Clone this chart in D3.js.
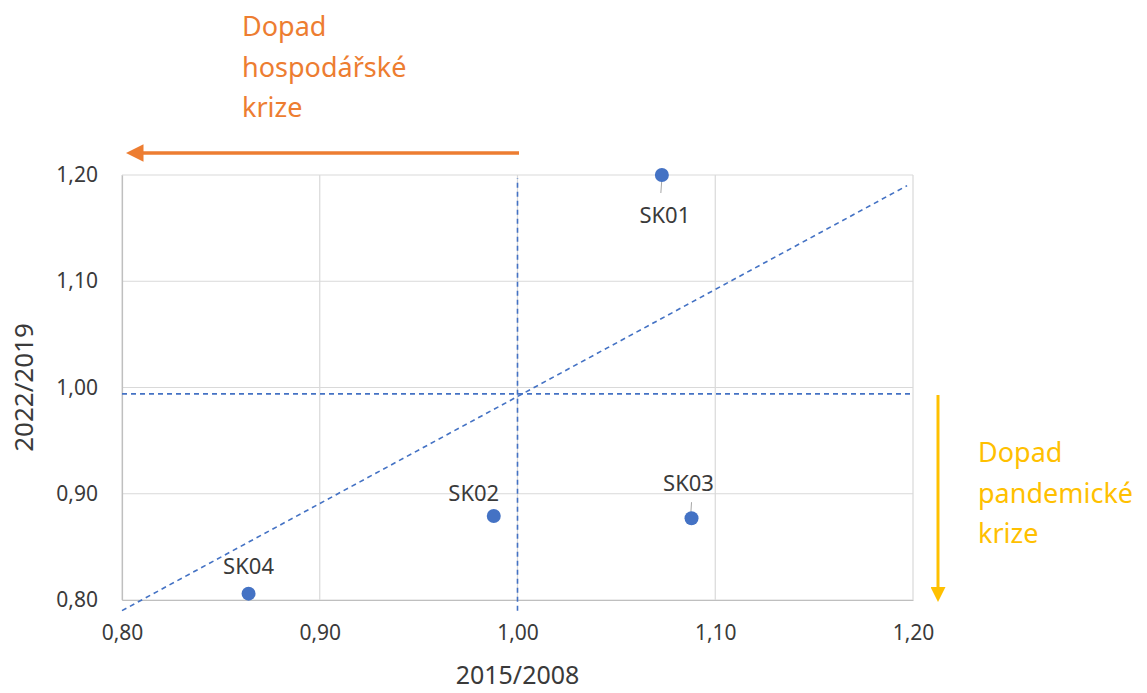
<!DOCTYPE html>
<html>
<head>
<meta charset="utf-8">
<script src="https://cdn.jsdelivr.net/npm/d3@7"></script>
<style>
  body { margin: 0; background: #fff; }
  svg { display: block; font-family: "Noto Sans", "Open Sans", sans-serif; }
</style>
</head>
<body>
<div id="chart"></div>
<script>
// Data
const regions = ['SK01', 'SK02', 'SK03', 'SK04'];
const ratio2015_2008 = [1.073, 0.988, 1.088, 0.864];
const ratio2022_2019 = [1.200, 0.879, 0.877, 0.806];
const xTicks = [0.80, 0.90, 1.00, 1.10, 1.20];
const yTicks = [0.80, 0.90, 1.00, 1.10, 1.20];
// reference lines (dashed)
const refVertical = [[1.00, 0.79], [1.00, 1.197]];
const refHorizontal = [[0.80, 0.994], [1.20, 0.994]];
const refDiagonal = [[0.80, 0.79], [1.197, 1.19]];

// Layout
const W = 1147, H = 693;
const plot = { left: 122, right: 913, top: 175, bottom: 600 };
// label offsets (px) relative to each marker: [dx, dy, leader]
const labelLayout = [[3, 48, true], [-20, -15, false], [-3, -27, true], [0, -20, false]];

const svg = d3.select('#chart').append('svg')
    .attr('width', W).attr('height', H);

const x = d3.scaleLinear().domain([0.80, 1.20]).range([plot.left, plot.right]);
const y = d3.scaleLinear().domain([0.80, 1.20]).range([plot.bottom, plot.top]);

const gridColor = '#d9d9d9';
const textColor = '#3a3a3a';

// Gridlines
svg.append('g').selectAll('line.v').data(xTicks).join('line')
    .attr('x1', d => x(d)).attr('x2', d => x(d))
    .attr('y1', plot.top).attr('y2', plot.bottom)
    .attr('stroke', gridColor).attr('stroke-width', 1.2);
svg.append('g').selectAll('line.h').data(yTicks).join('line')
    .attr('x1', plot.left).attr('x2', plot.right)
    .attr('y1', d => y(d)).attr('y2', d => y(d))
    .attr('stroke', gridColor).attr('stroke-width', 1.2);

// Axes (tick labels only)
const fmt = d => d3.format('.2f')(d).replace('.', ',');
const xAxis = svg.append('g')
    .attr('transform', `translate(0,${plot.bottom})`)
    .call(d3.axisBottom(x).tickValues(xTicks).tickFormat(fmt).tickSize(0).tickPadding(25));
const yAxis = svg.append('g')
    .attr('transform', `translate(${plot.left},0)`)
    .call(d3.axisLeft(y).tickValues(yTicks).tickFormat(fmt).tickSize(0).tickPadding(24));
[xAxis, yAxis].forEach(a => {
    a.select('.domain').attr('stroke', '#bfbfbf').attr('stroke-width', 1.2);
    a.selectAll('text').attr('fill', textColor)
        .style('font-size', '21px').style('font-family', '"Noto Sans", sans-serif');
});

// Axis titles
svg.append('text')
    .attr('x', x(1.00)).attr('y', 684)
    .attr('text-anchor', 'middle')
    .attr('fill', textColor)
    .style('font-size', '25px')
    .text('2015/2008');
svg.append('text')
    .attr('transform', `translate(33,${y(1.00)}) rotate(-90)`)
    .attr('text-anchor', 'middle')
    .attr('fill', textColor)
    .style('font-size', '26px')
    .text('2022/2019');

// Dashed reference lines
const line = d3.line().x(d => x(d[0])).y(d => y(d[1]));
[refVertical, refHorizontal, refDiagonal].forEach(pts => {
    svg.append('path')
        .attr('d', line(pts))
        .attr('fill', 'none')
        .attr('stroke', '#4472c4')
        .attr('stroke-width', 1.6)
        .attr('stroke-dasharray', '5,4');
});

// Points
const points = regions.map((r, i) => ({ name: r, x: ratio2015_2008[i], y: ratio2022_2019[i], lay: labelLayout[i] }));

svg.append('g').selectAll('line').data(points.filter(d => d.lay[2])).join('line')
    .attr('x1', d => x(d.x)).attr('x2', d => x(d.x) - 1)
    .attr('y1', d => y(d.y) + (d.lay[1] > 0 ? 4 : -16))
    .attr('y2', d => y(d.y) + (d.lay[1] > 0 ? 18 : 0))
    .attr('stroke', '#a6a6a6').attr('stroke-width', 1);

svg.append('g').selectAll('circle').data(points).join('circle')
    .attr('cx', d => x(d.x)).attr('cy', d => y(d.y))
    .attr('r', 7)
    .attr('fill', '#4472c4');

svg.append('g').selectAll('text').data(points).join('text')
    .attr('x', d => x(d.x) + d.lay[0])
    .attr('y', d => y(d.y) + d.lay[1])
    .attr('text-anchor', 'middle')
    .attr('fill', textColor)
    .style('font-size', '22px')
    .text(d => d.name);

// Annotation arrows
const defs = svg.append('defs');
[['arrOrange', '#ed7d31'], ['arrYellow', '#ffc000']].forEach(([id, c]) => {
    defs.append('marker')
        .attr('id', id)
        .attr('viewBox', '0 -5 10 10')
        .attr('refX', 2).attr('refY', 0)
        .attr('markerWidth', 5).attr('markerHeight', 5)
        .attr('markerUnits', 'strokeWidth')
        .attr('orient', 'auto')
        .append('path').attr('d', 'M0,-5L10,0L0,5Z').attr('fill', c);
});

svg.append('line')
    .attr('x1', 519).attr('y1', 153).attr('x2', 140).attr('y2', 153)
    .attr('stroke', '#ed7d31').attr('stroke-width', 3.5)
    .attr('marker-end', 'url(#arrOrange)');
svg.append('line')
    .attr('x1', 938).attr('y1', 395).attr('x2', 938).attr('y2', 590)
    .attr('stroke', '#ffc000').attr('stroke-width', 3)
    .attr('marker-end', 'url(#arrYellow)');

const econLines = ['Dopad', 'hospodářské', 'krize'];
const pandLines = ['Dopad', 'pandemické', 'krize'];
svg.append('g').selectAll('text').data(econLines).join('text')
    .attr('x', 242).attr('y', (d, i) => 36 + i * 40.5)
    .attr('fill', '#ed7d31').style('font-size', '27px')
    .text(d => d);
svg.append('g').selectAll('text').data(pandLines).join('text')
    .attr('x', 978).attr('y', (d, i) => 462 + i * 40.5)
    .attr('fill', '#ffc000').style('font-size', '27px')
    .text(d => d);
</script>
</body>
</html>
